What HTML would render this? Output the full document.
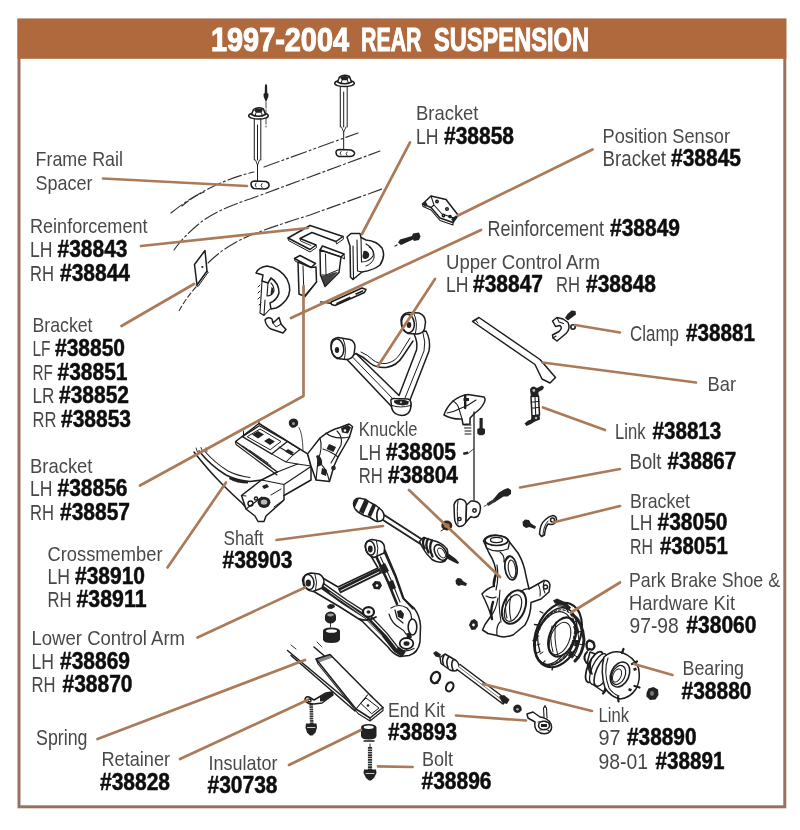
<!DOCTYPE html>
<html><head><meta charset="utf-8">
<style>
html,body{margin:0;padding:0;background:#fff;}
body{width:800px;height:830px;overflow:hidden;font-family:"Liberation Sans",sans-serif;}
svg{display:block;}
.r{font-family:"Liberation Sans",sans-serif;font-size:21px;fill:#4a4a4a;}
.r2{font-family:"Liberation Sans",sans-serif;font-size:22.3px;fill:#474747;}
.b{font-family:"Liberation Sans",sans-serif;font-weight:bold;font-size:24.5px;fill:#111;stroke:#111;stroke-width:0.55px;}
.ld{stroke:#ab7a59;stroke-width:2.7;fill:none;stroke-linecap:round;stroke-linejoin:round;}
.p{stroke:#1c1c1c;stroke-width:1.5;fill:none;stroke-linecap:round;stroke-linejoin:round;}
.pf{stroke:#1c1c1c;stroke-width:1.5;fill:#fff;stroke-linecap:round;stroke-linejoin:round;}
.k{fill:#222;stroke:none;}
</style></head><body>
<svg width="800" height="830" viewBox="0 0 800 830">
<defs><filter id="bl" x="-2%" y="-2%" width="104%" height="104%"><feGaussianBlur stdDeviation="0.7"/></filter></defs>
<rect x="0" y="0" width="800" height="830" fill="#fff"/>
<g filter="url(#bl)">
<!-- frame -->
<rect x="19" y="20" width="765.8" height="786.8" fill="none" stroke="#98725f" stroke-width="3"/>
<rect x="17.5" y="18.8" width="768.8" height="40" fill="#b0683c"/>
<text x="211" y="51" textLength="138" lengthAdjust="spacingAndGlyphs" style="font-family:'Liberation Sans',sans-serif;font-weight:bold;font-size:33px;fill:#fff;stroke:#fff;stroke-width:1.1px;">1997-2004</text>
<text x="361" y="51" textLength="60.5" lengthAdjust="spacingAndGlyphs" style="font-family:'Liberation Sans',sans-serif;font-weight:bold;font-size:33px;fill:#fff;stroke:#fff;stroke-width:1.1px;">REAR</text>
<text x="434" y="51" textLength="155" lengthAdjust="spacingAndGlyphs" style="font-family:'Liberation Sans',sans-serif;font-weight:bold;font-size:33px;fill:#fff;stroke:#fff;stroke-width:1.1px;">SUSPENSION</text>
<!-- ===== frame rail dashed lines ===== -->
<g stroke="#333" stroke-width="1.150" fill="none" stroke-linecap="round">
<path d="M171,213 Q188,199 210,188 T254,172" stroke-dasharray="14 3 2 3"/>
<path d="M264,167 L358,133" stroke-dasharray="16 3 2 3 2 3"/>
<path d="M174,250 Q184,236 200,223 T250,199 L380,151" stroke-dasharray="14 3 2 3"/>
<path d="M208,263 Q222,249 240,240 T310,215 L382,189" stroke-dasharray="14 3 2 3"/>
<path d="M196,287 Q186,298 179,311" stroke-dasharray="5 3"/>
<path d="M182,206 Q192,197 204,192" stroke-dasharray="8 3"/>
</g>
<!-- ===== left bolt + spacer ===== -->
<g class="p">
<path d="M266,86 V127" stroke-width="0.8" stroke-dasharray="6 2"/>
<path class="k" d="M265,84.500 L267,84.500 L267.300,93 L268.500,94 L268.300,97 L266,102 L263.700,97 L263.500,94 L264.700,93 Z"/>
<ellipse cx="258.500" cy="115.800" rx="9.800" ry="3.300" class="pf" stroke-width="1.500"/>
<path class="pf" stroke-width="1.400" d="M251.500,114.500 L253.500,109.500 Q258,106.300 263.500,109 L265.500,114.500 Q258.500,118 251.500,114.500 Z"/>
<path class="k" d="M254,110 Q258,107.300 263,109.500 L261.500,112.800 L256,112.800 Z"/>
<path d="M256,112.800 L255,116 M261.500,112.800 L262.500,116" stroke-width="1"/>
<path d="M254.3,119 V160 M260.8,119 V160 M257.5,125 V160" stroke-width="1"/>
<path d="M255.5,160 L257.5,165 L259.5,160" stroke-width="0.9"/>
<path d="M257.5,165 V181" stroke-width="1"/>
<path class="pf" d="M251,184 Q251,181 255,181 L266,181.5 Q269.5,183 269,186 Q268,189 264,189 L254,188.5 Q251,187.5 251,184 Z"/>
<path d="M256,183 Q254,185 256,187 M262,183.5 Q260,185.5 262,187.5" stroke-width="0.9"/>
</g>
<!-- ===== right bolt + spacer ===== -->
<g class="p">
<ellipse cx="344.500" cy="83.300" rx="9.800" ry="3.300" class="pf" stroke-width="1.500"/>
<path class="pf" stroke-width="1.400" d="M337.500,82 L339.500,77 Q344,73.800 349.500,76.500 L351.500,82 Q344.500,85.500 337.500,82 Z"/>
<path class="k" d="M340,77.500 Q344,74.800 349,77 L347.500,80.300 L342,80.300 Z"/>
<path d="M342,80.300 L341,83.500 M347.500,80.300 L348.500,83.500" stroke-width="1"/>
<path d="M340.3,86.5 V127 M347.2,86.5 V127 M343.7,92 V127" stroke-width="1"/>
<path d="M341.5,127 L343.7,132 L346,127" stroke-width="0.9"/>
<path d="M343.7,132 V150" stroke-width="1"/>
<path class="pf" d="M336,152.5 Q336,149.5 340,149.5 L351,150 Q355,151.5 354.5,154 Q353.5,156.5 350,156.5 L339,156.5 Q336,155.5 336,152.5 Z"/>
<path d="M341,151.5 Q339,153 341,155 M347,152 Q345,153.5 347,155.5" stroke-width="0.9"/>
</g>
<!-- ===== small plate (Bracket LF) ===== -->
<g class="p">
<path class="pf" d="M205,250.5 L207,271 L197,285 L194.5,264.5 Z"/>
<path d="M196,285.5 L198,286.5 L208.3,272 L207,271" stroke-width="1"/>
<circle cx="202.3" cy="267" r="1.1" class="k"/>
</g>
<!-- ===== Reinforcement C-plate (top) ===== -->
<g class="p">
<path class="pf" d="M288,238 L310,225.5 L343,236.5 L336,241.5 L312,232.5 L300,238.5 L316,245 L310,249.5 Z"/>
<path d="M288,238 L288.5,240.5 L310,252 L316.5,247.5 L316,245 M336,241.5 L336.5,244 L343.5,239 L343,236.5" stroke-width="1"/>
<path d="M300,238.5 L300.5,241 L311,245.5" stroke-width="0.9"/>
</g>
<!-- ===== left gusset ===== -->
<g class="p">
<path class="pf" d="M294.5,258.5 L300,255.5 L315.5,263.5 L311,267.5 Z"/>
<path class="pf" d="M298,262 L299,294 L305,296.5 L316.5,282 L316,267 L311,267.5 Z"/>
<path d="M303,266 L304,296 M304,296 L316.5,282" stroke-width="1"/>
<path d="M294.5,258.5 L295,261 L298,262.5" stroke-width="1"/>
</g>
<!-- ===== right gusset ===== -->
<g class="p">
<path class="pf" d="M320,250 L322.5,246 L344,254 L341,257 Z"/>
<path class="pf" d="M320,250 L320.5,275 L325,286.5 L339,272.5 L341,257 Z"/>
<path d="M325.5,254 L326,275 L338,270 M320.5,275 L326,275" stroke-width="1"/>
<path class="k" d="M321,276 L325,286 L338,272 L334,272.5 Q328,275 321,276 Z" opacity="0.85"/>
<path d="M341,257 L344.5,259 L344,254" stroke-width="1"/>
</g>
<!-- ===== curved bracket (C shaped) ===== -->
<g class="p">
<path class="pf" d="M256,273 Q258,267.5 267,266 Q280,268 287,279 Q293,291 286,300 Q281,306 276,308 L271,309 L270,303 Q277,300 279,293 Q279,283 271,278 L268,283 L262,281 L263,275 Z"/>
<path d="M262,281 L260,313 L264,315.5 L270,309 M264,315.5 L265,300 M268,283 L267,296 Q272,296 274,291 Q274,286 271,283" stroke-width="1.1"/>
<path d="M260,285 L258,287 M260,291 L258,293 M260,297 L258,299 M261,303 L259,305" stroke-width="1"/>
<path class="k" d="M271.5,287 q2.5,1 2,4.5 q-1,2.5 -3,3 z"/>
<path class="pf" d="M265,320 Q268,316 272,319 L273,323 L279,317.5 L281,324 L286,329.5 L283,333 L271,329 Q266,326 265,320 Z"/>
<path d="M273,323 L276,327 L281,324" stroke-width="1"/>
</g>
<!-- ===== Bracket LH #38858 ===== -->
<g class="p">
<path class="pf" d="M347,237 L351,233.5 L360,233.5 L361,237.5 L366,240 Q377,241 382,248 Q386,256 380,265 Q374,270 362,272 L353,279.5 L350.5,277 L350,246 Z"/>
<path d="M353,246 L353.5,279 M357,240 L357.5,271 L362,272 M361,237.5 L361.5,262 Q369,262 373,256 Q375,249 366,244" stroke-width="1.1"/>
<path class="k" d="M363.5,251 q4,-1 5.5,2.5 q1,4 -3,5.5 q-3.5,0.5 -3.5,-3 z"/>
<path d="M369,247 Q375,250 374,258 Q372,264 366,266" stroke-width="1"/>
</g>
<!-- ===== small bolt near bracket ===== -->
<g class="p">
<path class="k" d="M398,242.5 L400,239.5 L412,236 L413,233.5 L419,232.5 L420.5,236.5 L419,240 L414,241 L413,239.5 L401,245 Z"/>
<path d="M397,245 l-2,1" stroke-width="1.2"/>
</g>
<!-- ===== position sensor bracket ===== -->
<g class="p">
<path class="pf" stroke-width="1.7" d="M422.5,204 L431,196 L446,199.500 L458,215 L453,222.5 L440,218 L431,207.5 Z"/>
<path class="k" d="M422.500,204 l3,-2.500 l2,3 l-2.500,2.500 z M451,219 l5,-3.500 l1.500,2 l-4,5 z"/>
<path d="M431,196 L434,205 L442,214 L454,218 M434,205 L431,207.5 M422.5,204 L423,206.5 L431,210 L440,220.5 L453,225 L453,222.5" stroke-width="1.05"/>
<circle cx="437" cy="201.5" r="1.2"/><circle cx="447" cy="209" r="1.3"/><circle cx="443.5" cy="215.5" r="1.2"/><circle cx="450" cy="216.5" r="1.1"/>
</g>
<!-- ===== slender strip ===== -->
<g class="p">
<path d="M320.500,301.800 L332,303.500" stroke-width="1.300"/>
<path class="pf" d="M331,302 L362,288 L366,289.5 L364.5,292.5 L335,305.5 L331.5,304.5 Z"/>
<path class="k" d="M336,303 L350,296.5 L351,298.5 L337,304.8 Z M355,293.5 L363,290 L363.5,291.5 L356,295 Z"/>
</g>
<!-- ===== Upper control arm ===== -->
<g class="p">
<!-- arms -->
<path class="pf" d="M347,359.5 L391,406 Q394,414 402,415 Q410,414 411,405 L410,400 L429,351 Q431,340 426,331 L414,334 Q418,342 416.5,350 L399,395.5 L356,353.5 Z"/>
<path d="M352,356.5 L395,401 M423,333 Q426,342 424,351 L405,398" stroke-width="1"/>
<!-- cross brace -->
<path d="M356,353.5 Q364,357 370,363 Q376,368 386,367.5 Q397,366 403,356 Q409,347 413,341" />
<path d="M361,352 Q368,355 373,360 Q378,364 386,363.5 Q395,362 400,354 Q405,346 410,338" stroke-width="1"/>
<!-- left bushing -->
<path class="pf" d="M331,345 Q331,338.5 338,337.5 L350,339.5 Q355,341.5 355,347 L354,354 Q352,359.5 346,359.5 L337,358.5 Q331,356 331,345 Z"/>
<ellipse cx="337.5" cy="348.5" rx="6.2" ry="9.5" transform="rotate(-8 337.5 348.5)"/>
<ellipse cx="337" cy="350" rx="2.2" ry="3" class="k"/>
<path d="M343,339 Q347,347 344.5,358.5" stroke-width="1"/>
<!-- top bushing -->
<path class="pf" d="M401,320 Q402,313 409,312.5 L419,313 Q425,315 425.5,322 L424.5,329 Q423,333.5 417,334 L408,333.5 Q401,331 401,320 Z"/>
<ellipse cx="408" cy="323.5" rx="6.3" ry="9.3" transform="rotate(-8 408 323.5)"/>
<ellipse cx="409" cy="325" rx="2.3" ry="3" class="k"/>
<path d="M414,314 Q418,322 415.5,333" stroke-width="1"/>
<!-- ball joint end -->
<path class="pf" d="M391,402 Q390,398 395,398.5 L408,399 Q411,400 411,404 L410.5,409 Q409,415 402,415.5 Q394,415 392,409 Z"/>
<path d="M392,405.5 Q400,408.5 410.5,405.5 M397,400.5 l3,2 l4,-2" stroke-width="1"/>
<path class="k" d="M394,400.500 l5,-1 l6,0.500 l4,1.500 l-1,3 l-5,1 l-6,-1 l-3,-2 z"/>
<circle cx="401" cy="402.300" r="1.100" fill="#ccc" stroke="none"/>
</g>
<!-- ===== Bar ===== -->
<g class="p">
<path class="pf" d="M479,317.5 L540,359.5 L555.5,377.5 L550,383 L542,379 L535,364.5 L472.5,321.5 Z"/>
<path d="M475,319.5 L478,323" stroke-width="1"/>
</g>
<!-- ===== Clamp ===== -->
<g class="p">
<path class="pf" stroke-width="1.700" d="M552.500,321 L557,317.500 L563,319 L568,322.500 Q571,328.500 566,333.500 L557,341 L553,338 L552.500,335 L559,331.500 Q563,328 560,325.500 L555.500,326.500 Z"/>
<path d="M557,317.500 L559,322 L563.500,323.500 M553,338 L556,336" stroke-width="1.100"/>
<path class="k" d="M565,318 L567.500,314 L571.500,310.500 L575.500,311 L576,314.500 L572,317.500 L568,320.500 Z"/>
<circle cx="573" cy="327" r="2.200" stroke-width="1.600"/>
</g>
<!-- ===== Link #38813 ===== -->
<g class="p">
<path class="k" d="M530,390 Q530.500,386.500 534,386.500 L537,388 L542,385.500 L544,387 L543,389.500 L538.500,392 L538.500,396 L531,396.500 Z"/>
<circle cx="533.800" cy="390.500" r="1.400" fill="#bbb" stroke="none"/>
<path class="pf" stroke-width="1.600" d="M531,396.500 L538.500,396 L539.500,415 L532,416 Z"/>
<path d="M531.300,402 L539,401.500 M531.600,408 L539.200,407.500 M535,397 L535.700,415" stroke-width="1.100"/>
<path class="k" d="M531.500,415.500 L539.500,414.500 L540,419.500 L535,421.500 L531,424 L526.500,426 L524.500,423.500 L528,420.500 L531,419.500 Z"/>
<circle cx="536" cy="418" r="1.200" fill="#bbb" stroke="none"/>
</g>
<!-- ===== Strut top mount + rod ===== -->
<g class="p">
<path class="pf" stroke-width="1.700" d="M444,415 Q446,408 453,401 Q460,395.5 468,394.5 L484,397 Q486,399 484,403 Q481,409 475,413 L470,418 L470,424 L463,424.5 L462,419 Q452,419.5 444,415 Z"/>
<path d="M453,401 Q458,404 459,409 L462,419 M459,409 Q468,406 476,400 M447,413 Q454,412 459,409" stroke-width="1.05"/>
<path d="M465.200,395.500 V408" stroke-width="2.400"/>
<path class="k" d="M463.5,398 h5.5 v3 h-5.5z"/>
<path d="M464,425 h7 M464.5,428 h6.5 M465,431 h6 M465,434 h6" stroke-width="1"/>
<!-- bolt -->
<path class="k" d="M479.5,418 h3.2 v10 l2.3,1 v4.5 l-2.3,1.8 h-3.4 l-2,-1.8 v-4.5 l2.2,-1 z"/>
<!-- rod -->
<path d="M474,412 V500" stroke-width="1.3"/>
<path class="k" d="M463,452.5 l5,-1 l0.5,2.5 l-5,1 z"/>
<path d="M468.5,453 L473.5,449" stroke-width="0.8"/>
</g>
<!-- ===== Crossmember ===== -->
<g class="p">
<!-- left arm -->
<path d="M194,452 Q208,470 222,484 Q234,496 242,503 L248,510" stroke-width="1.500"/>
<path d="M199,451 Q211,466 226,475 Q238,481 250,481.500 L262,480" stroke-width="1.500"/>
<path d="M205,451.500 Q215,463 228,471 Q238,476 250,477.500" stroke-width="1.100"/>
<path d="M196,448 l1.500,4 M201,447.500 l1.500,4 M206,448 l1,3.500" stroke-width="0.900"/>
<path class="k" d="M230,476.500 Q238,480.500 248,481 L248,483.500 Q237,483.500 229,479 Z"/>
<!-- outer frame + top pad -->
<path class="pf" d="M235.600,441.500 L259,423.500 L307.600,453.900 L311,466 L311,480 L284,495.500 L284,500 L266,516 L264,521.500 L258,521.500 L255,516 L246,509 L241.500,495.500 L261.500,480 L277.300,472 Z"/>
<path d="M235.600,441.500 L236,444.500 L277,475 M261.500,480 L284,484.500 L284,495.500 M284,484.500 L311,466.500 M277.300,472 L297.500,464 L311,466 M246,509 L262,497" stroke-width="1.150"/>
<path d="M242.400,436.600 L259.300,425.800 L287.400,441.500 L271.600,453.900 Z" stroke-width="1.300"/>
<path d="M247.500,436.500 L260,429 L281,441.500 L270.500,449.500 Z" stroke-width="1"/>
<path class="k" d="M252,434.500 l6,-3.500 l6,3.500 l-6,4 z M264,441 l5,-3 l6,3.500 l-5,3.500 z"/>
<path d="M259,423.500 v-4 M243.500,436 v-5 M287.400,441.500 L300,449.500 L293,455 L279,447 M271.600,453.900 L286,462 L297.500,464 M286,462 L293,455" stroke-width="1.050"/>
<path class="k" d="M288,449 l6,3.500 l-3,2.500 l-6,-3.500 z"/>
<path d="M243,446 L271,466 M250,450.500 L268,463" stroke-width="0.900"/>
<!-- housing details -->
<ellipse cx="264" cy="502.300" rx="6.400" ry="5.600" class="k"/>
<ellipse cx="264" cy="502" rx="3.300" ry="2.600" fill="#bbb" stroke="none"/>
<circle cx="250.500" cy="503.500" r="2.500" stroke-width="1.400"/><circle cx="256" cy="498.500" r="1.600"/>
<path d="M271,495 L281,489 M274,507 L283,500.500 M246,496 L241.500,495.500" stroke-width="1"/>
<path class="k" d="M262,486 l5,-2 l2,3 l-5,2 z"/>
<!-- right wing -->
<path class="pf" d="M307.600,453.900 L320,438 Q330,430 340,427.500 L349,424 L352.500,426.500 L349.500,437 Q344,447 338,457 L334,466 L329.500,481.500 L316,480 L311,466 Z"/>
<path d="M320,438 Q323,448 318,460 L316,480 M326,433 Q334,440 349.500,437 M323,449 Q332,452 338,457 M318,462 Q326,466 329.500,481.500" stroke-width="1.150"/>
<path class="k" d="M341,428 l7,-3 l3,2.500 l-3,6 l-6,-1 z M318,455 q5,3 4,10 l-5,2 q1,-7 -1,-11 z M329,444 l7,3 l-2.500,5 l-7,-3 z M322,468 l5,2 l-1,6 l-5,-2 z"/>
<path d="M337,431 Q343,437 341,445 Q337,453 331,463" stroke-width="1.100"/>
<circle cx="333.500" cy="468" r="1.600"/><circle cx="345" cy="430.500" r="1.300" fill="#fff" stroke="none"/>
<!-- nut + thin line above -->
<path class="k" d="M289,421 q3,-3.500 7,-2 q3.500,2.500 1.500,6.500 q-2.500,3 -6,2 q-3.500,-2 -2.500,-6.500 z"/>
<circle cx="293.500" cy="423.500" r="1.500" fill="#999" stroke="none"/>
<path d="M299,427.500 Q302.500,433 303,450" stroke-width="0.800"/>
</g>
<!-- ===== Shock lower bracket + nut ===== -->
<g class="p">
<path class="pf" d="M454,505 Q455,500 460,499 Q466,499.5 466.5,505 L466,522 Q464,526.5 459,526.5 Q455,525 454.5,518 Z"/>
<path class="pf" d="M466.5,505 L471,501 Q478,500.5 480,505 Q481.5,511 478,516 Q474,518.5 471,516.5 L466,522 Z"/>
<circle cx="474.5" cy="510.5" r="1.7"/><circle cx="459.5" cy="519" r="1.6"/>
<path d="M458,501 Q456.5,510 458,524" stroke-width="1"/>
<ellipse cx="446.800" cy="525.500" rx="4.200" ry="3.600" stroke="#3a2418" stroke-width="2.600" fill="#a0705a"/>
<path d="M441,531 l3,-2" stroke-width="1"/>
</g>
<!-- ===== Bolt #38867 ===== -->
<g class="p">
<path class="k" d="M499,492.5 L504,489.5 L508,488 L511,490 L511,494 L507.5,496.5 L503.5,496.5 L495,502 L493,499.5 Z"/>
<path d="M494.5,500.5 L488.5,504" stroke-width="3.2" stroke="#333" stroke-dasharray="1.2 1"/>
<path d="M486.5,505 l-2.5,1.5" stroke-width="0.8"/>
</g>
<!-- ===== Bracket #38050 clamp + bolt ===== -->
<g class="p">
<path class="k" d="M522.5,522 L525,519.5 L529,520 L531,523.5 L536,526.5 L535,529 L529.5,527 L526,528 L523,526 Z"/>
<path class="pf" d="M539.5,534 Q540,524 545,520 Q549,516 553,515.5 Q557,516.5 556.5,520.5 Q555,524.5 551,524.5 L548,524 Q545,528 544.5,535 L541.5,536.5 Z"/>
<circle cx="552.5" cy="520" r="2"/>
<path d="M543,534.5 Q543.5,526 548,521" stroke-width="1"/>
</g>
<!-- ===== Axle shaft ===== -->
<g class="p">
<path d="M381,518.800 L422,545 M383.800,514.800 L424.500,541" stroke-width="1.900" stroke="#222"/>
<path class="pf" stroke-width="2" d="M353.500,503.500 Q354,498 360,498.200 L366,499.500 L371,503 L376,505.500 L382,510.500 Q385.500,515 383,519.500 Q380,522.500 375.500,521 L369,517 L364,515.500 L358,512 Q353.500,508.500 353.500,503.500 Z"/>
<path class="k" d="M354,502 q1,-3.500 5,-3.500 l-4.500,10 q-1.500,-3 -0.500,-6.500 z"/>
<path class="k" d="M364.500,499.300 l4.500,2.300 l-5.500,12.400 l-4.500,-2.600 z"/>
<path class="k" d="M372.500,504 l3.500,1.800 l-5,11.200 l-3.500,-1.800 z"/>
<path d="M379,508 Q375.500,513 377.500,520.500" stroke-width="1.700"/>
<path class="pf" stroke-width="1.600" d="M419.500,541.500 L423.500,537.500 L433,540.500 Q442,542.500 447,549 Q449.500,556 445,561 Q439,564 432,559.500 Q426,554 422.500,547.500 Z"/>
<path d="M424.500,538 Q421.500,542 424.500,548.500 M428,539 Q424.500,544 428.500,552.500 M432,540.500 Q428,546.500 432.500,556.500" stroke-width="2.300"/>
<ellipse cx="440.500" cy="552.500" rx="5.200" ry="8.600" transform="rotate(-32 440.500 552.500)" stroke-width="1.600"/>
<ellipse cx="441.500" cy="553" rx="3" ry="5.500" transform="rotate(-32 441.500 553)" stroke-width="1"/>
<path class="k" d="M445.500,556 l3,-2.500 l7.500,5.500 l3,3.500 l-1,1.500 l-4.500,-2 l-7.500,-4 z"/>
<!-- small bolt -->
<path class="k" d="M455.5,580.5 L457.5,578 L461,578.5 L463,581 L467,583.5 L466,586 L461.5,585 L458.5,586 L456,584 Z"/>
<!-- nut -->
<path class="k" d="M469,625 l2,-4.5 l3.5,-1.5 l3,2.5 l0.5,4.5 l-2.5,3.5 l-4,0.5 z"/>
<circle cx="473.5" cy="625" r="1.4" fill="#fff" stroke="none"/>
</g>
<!-- ===== Lower control arm ===== -->
<g class="p">
<!-- silhouette -->
<path class="pf" stroke-width="1.7" d="M321,577 L338,587 L378,568 L371,556 L385,550 L396,576 L404,599 L414,608 Q420,616 420.500,626 L420,642 Q418,653 409,655.500 L400,656.500 Q393,654 388,647 L362,621 L340,607 L313,591 Z"/>
<!-- arm A dark band -->
<path d="M322,585.500 L345,602 L367,616 L385,635 L396,649 L404,654.500" stroke="#242424" stroke-width="6.500" stroke-linecap="butt"/>
<path d="M324,585.500 L346,601 L367,614.500 L386,634 L397,648" stroke="#fff" stroke-width="1.100"/>
<path d="M330,592.500 L350,606.500 L366,618 L382,636" stroke="#ddd" stroke-width="0.800"/>
<!-- cross brace dark band -->
<path d="M339,591 L381,570.500" stroke="#242424" stroke-width="5.800" stroke-linecap="butt"/>
<path d="M341,590.500 L379,572" stroke="#eee" stroke-width="1"/>
<!-- arm B -->
<path d="M376,556 L388,582 L397,604" stroke="#242424" stroke-width="2.600"/>
<path d="M384.500,552 L395,575.500 L403,598 L413,608.500" stroke="#242424" stroke-width="2"/>
<path d="M380.500,557 L391.500,581 L400,602" stroke-width="1.100"/>
<path class="k" d="M379,566 l6,-3 l4,8 l-6,3.500 z M388,582 l5,-2 l3,8 l-4.500,2 z"/>
<!-- junction boss -->
<ellipse cx="368.500" cy="612" rx="5.500" ry="4.800" fill="#fff" stroke-width="2.200"/>
<ellipse cx="368.500" cy="612" rx="2" ry="1.700" class="k"/>
<path d="M360,619 Q368,622 376,617" stroke-width="1.800"/>
<!-- nut under brace -->
<path class="k" d="M372,584.500 l3,-3.500 l5,0.500 l2,4 l-2.500,4 l-5.500,-0.500 z"/>
<circle cx="377" cy="585.500" r="1.300" fill="#fff" stroke="none"/>
<!-- plate near ball joint -->
<path d="M391,608 Q399,603 407,608 Q413,614 411,622 M389,614 Q392,624 400,628 Q404,630 406,634 M395,610 l2,8 l6,5" stroke-width="1.200"/>
<path class="k" d="M397,611 l4,-1 l3,4 l-1,5 l-5,-2 z"/>
<!-- ball joint -->
<ellipse cx="412.500" cy="627" rx="4.300" ry="8" fill="#fff" stroke-width="1.600"/>
<path class="k" d="M406,633.500 l4.500,-1 l1.500,5 l-4.500,1.500 z"/>
<ellipse cx="406.500" cy="643.500" rx="6.800" ry="5.500" fill="#fff" stroke-width="1.800"/>
<ellipse cx="406.500" cy="643.500" rx="3" ry="2.300" class="k"/>
<path d="M398,648 Q405,653.500 414,648.500" stroke-width="1.200"/>
<!-- top bushing -->
<path class="pf" stroke-width="1.600" d="M365,546 Q366,540 372,539.500 L380,541 Q385,543.500 384.500,549 L384,553 L374,557.500 Q366,555.500 365,546 Z"/>
<ellipse cx="370.300" cy="548" rx="4.600" ry="7.200" transform="rotate(-12 370.300 548)" stroke-width="1.500"/>
<ellipse cx="370.300" cy="549" rx="2.400" ry="3.400" class="k"/>
<path d="M376.500,541 Q379,548 377,556" stroke-width="1"/>
<!-- left bushing -->
<path class="pf" stroke-width="1.600" d="M302.500,580 Q304,573.500 311,573 L319,574 Q324,576.500 324,582 L322,588 L313,591.500 Q303,590 302.500,580 Z"/>
<ellipse cx="308.800" cy="582" rx="5" ry="7.600" transform="rotate(-12 308.800 582)" stroke-width="1.500"/>
<ellipse cx="308.300" cy="583" rx="2.700" ry="3.600" class="k"/>
<path d="M315,574.500 Q318,582 315.500,590.500" stroke-width="1"/>
</g>
<!-- ===== bump stop stack ===== -->
<g class="p">
<path class="k" d="M327,606 l3,-2 l4,0.5 l1,2.5 l-3.5,2 l-3.5,-0.5 z"/>
<path class="k" d="M325,616 Q325.500,612 330.500,611.500 Q335.500,612 336,616 L336,620 Q334,623.500 330.500,623.500 Q327,623.500 325,620 Z"/>
<ellipse cx="330.500" cy="615" rx="3.200" ry="1.400" fill="#999" stroke="none"/>
<path class="k" d="M323,631 Q323,627.5 331,627.5 Q339.5,627.5 340,631 L340,639.5 Q339,643 331.5,643 Q323.5,643 323,639.5 Z"/>
<ellipse cx="331.5" cy="631" rx="5.5" ry="1.8" fill="#fff" stroke="none"/>
<path d="M330.5,622 v5" stroke-width="0.9"/>
</g>
<!-- ===== Knuckle ===== -->
<g class="p">
<path class="pf" stroke-width="1.900" d="M483.500,541 Q485,535.500 495,535 Q507,536 509.500,542 L518,553 Q524,563 526,576 L529,589 L538,584 L544,580.500 Q549,580 550,585 L549,592 L541,599 L531,602.500 Q531,615 525,625 L513,635 Q504,638.500 497,635.500 L488,633.500 L482.500,630 L485,624.500 L491,616 Q489,608 482,594 Q486,589 494,586 L496,574 Q496,564 489,553 Z"/>
<ellipse cx="496.500" cy="540.500" rx="11.500" ry="5" stroke-width="1.700"/>
<ellipse cx="496.500" cy="540" rx="6" ry="2.600" stroke-width="1.300"/>
<path d="M485,542 L486.500,548 Q496,553.500 508,549 L509.500,542.500" stroke-width="1.300"/>
<path d="M500,552 Q505,556 504,562 L510,556" stroke-width="1.200"/>
<!-- upper window -->
<ellipse cx="511" cy="568" rx="6" ry="12" transform="rotate(-8 511 568)" stroke-width="1.700"/>
<ellipse cx="512" cy="569" rx="3.600" ry="9" transform="rotate(-8 512 569)" stroke-width="1.100"/>
<!-- hub bore -->
<ellipse cx="514" cy="607" rx="11" ry="17.500" transform="rotate(22 514 607)" stroke-width="2"/>
<ellipse cx="513" cy="608" rx="7.500" ry="14" transform="rotate(22 513 608)" stroke-width="1.200"/>
<path d="M507,598 Q504,607 507,618 M511,596 Q508,607 511,620" stroke-width="1.100"/>
<!-- ribs -->
<path d="M497,565 Q499,578 496,590 M491,616 Q496,610 498,598 M486,596 Q492,599 496,597 M529,589 Q524,588 521,592 M497,635.500 Q496,626 500,622" stroke-width="1.200"/>
<path d="M496,574 Q493,582 494,586 M493,602 Q490,611 492,619" stroke-width="2.400"/>
<path d="M500,590 Q498,604 501,622" stroke-width="1.100"/>
<!-- right ear -->
<path d="M538,584 Q541,589 540,596 M544.500,580.500 Q542,587 545,593" stroke-width="1.100"/>
<circle cx="545.500" cy="587" r="2"/>
</g>
<!-- ===== Park brake shoe / backing plate ===== -->
<g class="p">
<ellipse cx="558" cy="635" rx="22" ry="33.5" transform="rotate(22 558 635)" fill="#fff" stroke-width="2.1"/>
<ellipse cx="556" cy="636.5" rx="19" ry="30" transform="rotate(22 556 636.5)" stroke-width="1.5"/>
<ellipse cx="553.5" cy="638" rx="16.5" ry="27.5" transform="rotate(22 553.5 638)" stroke-width="1.3"/>
<ellipse cx="562" cy="637" rx="12.5" ry="20.5" transform="rotate(22 562 637)" fill="#fff" stroke-width="2"/>
<ellipse cx="560" cy="638.5" rx="9.5" ry="17" transform="rotate(22 560 638.5)" stroke-width="1"/>
<path d="M552,626 Q549,638 553,652 M556,622 Q553,638 558,656" stroke-width="1"/>
<ellipse cx="555" cy="637.300" rx="17.800" ry="28.800" transform="rotate(22 555 637.300)" stroke-width="1.100" stroke-dasharray="2.500 2"/>
<path d="M540,621 Q535,636 540,652 M543,613 l-3,-1.500 M538,625 l-3.500,-0.500 M536.500,640 l-3.500,0.500 M539,652 l-3,1.500 M545,661 l-2.500,2.500 M553,667 l-1,3" stroke-width="1.300"/>
<!-- shoes dark on right -->
<path d="M572,614 Q583,622 584,640 Q583,654 575,661" stroke-width="3" stroke="#222"/>
<path d="M569,618 Q578,626 579,640 Q578,652 572,658" stroke-width="1.1"/>
<path class="k" d="M573,626 l5,1 l1.5,6 l-4,1 z M575,640 l4.5,0 l-1,7 l-4.5,-1 z M570,651 l5,1 l-3,6 l-4,-2 z"/>
<path d="M574,622 l5,-2 M577,632 l6,-1 M578,644 l6,1 M574,655 l5,3" stroke-width="1"/>
<!-- top clip -->
<path class="k" d="M553,600.500 l4,-2 l9,4 l5,5 l-2,2.5 l-6,-4.5 l-8,-2 z"/>
<path d="M558,606 q6,-1 10,5" stroke-width="1.1"/>
<!-- left ticks -->
<path d="M537,628 l3,1 M536,636 l3,0 M537,645 l3,-1 M540,654 l3,-2" stroke-width="1"/>
</g>
<!-- ===== clip between ===== -->
<g class="p">
<path d="M588,650 Q584.500,643 589,640.500 Q594.500,641 594.500,646.500 Q593,651 589.500,649" stroke-width="2.300"/>
<path d="M587,652 Q582,657 586.500,663" stroke-width="2"/>
</g>
<!-- ===== Hub / bearing ===== -->
<g class="p">
<!-- barrel -->
<path class="pf" d="M590,652 L612,660 L604,692 L592,684 Q584,668 590,652 Z" stroke="none"/>
<ellipse cx="594.5" cy="667" rx="6.5" ry="16.5" transform="rotate(24 594.5 667)" fill="#fff" stroke-width="1.8"/>
<ellipse cx="598.5" cy="669" rx="6.5" ry="16.5" transform="rotate(24 598.5 669)" fill="#fff" stroke-width="1.3"/>
<ellipse cx="603" cy="671" rx="6.5" ry="16.5" transform="rotate(24 603 671)" fill="#fff" stroke-width="1.6"/>
<path d="M591,660 q-2,7 1,14 M589,664 q-1,5 1,9" stroke-width="1.6"/>
<!-- flange -->
<path class="pf" d="M604,657 Q612,650 622,652.5 Q634,657 638.5,668 Q641,680 636,689 Q630,698 620,699 Q611,697 605,688 Q600,672 604,657 Z" stroke-width="1.7"/>
<path d="M608,658 Q603,672 609,688 Q613,694 619,696" stroke-width="1.1"/>
<ellipse cx="620" cy="674.5" rx="9" ry="13" transform="rotate(24 620 674.5)" stroke-width="1.6"/>
<ellipse cx="618.5" cy="675" rx="6.5" ry="10" transform="rotate(24 618.5 675)" stroke-width="1.2"/>
<ellipse cx="617" cy="675.5" rx="4" ry="7" transform="rotate(24 617 675.5)" stroke-width="1"/>
<!-- studs -->
<path d="M632,664 l5,-2.500 M634.5,686 l5,1.500 M618,697 l0.500,4.500 M606,690 l-3,3.500 M622,653 l1.500,-4" stroke-width="2.200"/>
<path class="k" d="M633,668.500 l3,-1 l1,2.500 l-3,1 z M629,688 l3,1 l-1,2.500 l-3,-1 z"/>
<!-- nut -->
<path class="k" d="M646.500,693 l2,-4.500 l5,-1.500 l4.500,2.500 l0.500,5.500 l-3,4.500 l-5.500,0.500 l-3.500,-3.500 z"/>
<ellipse cx="652" cy="693.500" rx="2" ry="2.400" fill="#777" stroke="none"/>
</g>
<!-- ===== Tie rod (Link 97) + end kit ===== -->
<g class="p">
<path class="k" d="M433,653 l3,-2 l5,3.500 l-1.500,3 l-4,-1 z"/>
<path class="pf" stroke-width="1.600" d="M440,657.500 L445,654 L456,660.500 Q460.500,664.500 458.500,669 Q455.500,672.500 450,670 L441,663.500 Z"/>
<path d="M444,655.500 Q441.500,659 443.500,664.500 M448.500,657 Q445.500,661.500 448,667.500 M453,660 Q450.500,664.500 453,670" stroke-width="1.600"/>
<path d="M457,669.500 L503,704 L506.500,699.500 L460,664.500" stroke-width="1.500" fill="#fff"/>
<path d="M459,667 L504,701.500" stroke="#777" stroke-width="1"/>
<path class="k" d="M499,696.500 l5,-1.500 l5.500,4.500 l-2.500,4.500 l-5,-1.500 z"/>
<path class="k" d="M513.500,707 q2.500,-3.500 6,-2 q3,2.500 2,5.500 q-2.500,3.500 -6,2 q-3,-2 -2,-5.500 z"/>
<circle cx="517.500" cy="709.300" r="1.300" fill="#aaa" stroke="none"/>
<!-- outer tie rod end -->
<path class="pf" d="M527,714 L533,712 L540,717 Q548,718 551,724 Q553,730 548,733 Q542,735 537,731 Q534,727 535,722 L528,718 Z"/>
<path d="M544,717 L543.500,708 L545,706 L546.500,708 L547,718" stroke-width="1.100" fill="#fff"/>
<path class="k" d="M543.700,707.500 l1.300,-3 l1.300,3 z"/>
<ellipse cx="544" cy="725.500" rx="5.500" ry="4.200"/>
<path d="M538,722 Q544,720 550,723 M540,730 Q545,728 549,730.500" stroke-width="1"/>
<path class="k" d="M541,724 h6 v3 h-6 z"/>
<!-- two nuts -->
<ellipse cx="435.500" cy="677.500" rx="4.300" ry="5.800" transform="rotate(25 435.500 677.500)" stroke-width="2.300"/>
<path d="M432,681 l2,2.500 l4,-0.500" stroke-width="1.400"/>
<ellipse cx="449.700" cy="686.800" rx="3.500" ry="4.800" transform="rotate(25 449.700 686.800)" stroke-width="2.100"/>
</g>
<!-- ===== Spring (leaf) + retainer + insulator + bolt ===== -->
<g class="p">
<path d="M287.500,650.500 L357,708.500 M291,655.500 L355,711" stroke-width="1.500"/>
<path d="M314,647 L372,697" stroke-width="1.600"/>
<path class="pf" d="M316,659 L330,654.500 L372,697 L383,707.500 L370,718 L356,709 Z"/>
<path d="M356,709 L367.500,695 M316,659 L318,664 L358,713.500 L370,721 L383,710.500 L383,707.500 M370,718 L370,721" stroke-width="1.100"/>
<path d="M361,703 L366,698 L379,708 L372,713.500 Z" stroke-width="1"/>
<circle cx="368" cy="705.500" r="1.300" class="k"/>
<path class="k" d="M316,659 l14,-4.500 l3,3 l-14,5 z" opacity="0.550"/>
<path d="M296,649 l-5,-4 M322,647 l-5,-5 M300,663 l4,-3" stroke-width="0.900"/>
<!-- retainer -->
<path class="pf" d="M305,699 Q306,696 309,697 L314,700 L326,693 L332,692 L333,695 L322,703 L314,704 L309,703.500 Q305,702 305,699 Z"/>
<path class="k" d="M320,697 l8,-4.500 l4,-0.500 l1,3 l-9,6 l-4,0.500 z"/>
<circle cx="309.500" cy="700.500" r="1.500"/>
<path d="M311.200,704 L311.700,724" stroke-width="3.600" stroke="#2a2a2a" stroke-dasharray="1.600 0.700" stroke-linecap="butt"/>
<path class="k" d="M306,723.500 h10.500 l0.500,4 l-1.500,5 l-3,3 h-2.500 l-3,-3 l-1.500,-5 z"/>
<path d="M307.500,727.500 h7.500" stroke="#ccc" stroke-width="1"/>
<!-- insulator -->
<path class="k" d="M361,727.500 Q361,724 368.500,724 Q376,724 376.500,727.500 L376.500,736 Q376,739.500 368.500,739.500 Q361.500,739.500 361,736 Z"/>
<ellipse cx="368.700" cy="727.300" rx="5" ry="1.700" fill="#fff" stroke="none"/>
<path d="M364,741 h10" stroke-width="1.400"/>
<!-- bolt #38896 -->
<path d="M370,747 V770" stroke-width="4.200" stroke="#2a2a2a" stroke-dasharray="1.700 0.700" stroke-linecap="butt"/>
<path d="M370,744 v3" stroke-width="0.900"/>

<path class="k" d="M364,769.500 h12 l0.500,3.500 l-2.500,5 l-3,2.500 h-2 l-3,-2.500 l-2.500,-5 z"/>
<path d="M366,773.500 h8" stroke="#ccc" stroke-width="1"/>
</g>

<polyline class="ld" points="103.0,178.5 247.0,186.0"/>
<polyline class="ld" points="141.0,246.0 308.0,228.0"/>
<polyline class="ld" points="410.0,142.4 362.0,234.0"/>
<polyline class="ld" points="592.5,149.5 458.0,215.5"/>
<polyline class="ld" points="481.0,230.0 291.0,318.0"/>
<polyline class="ld" points="435.0,279.0 378.0,366.0"/>
<polyline class="ld" points="121.5,326.0 194.0,284.0"/>
<polyline class="ld" points="140.0,485.5 303.5,396.0 303.5,286.0"/>
<polyline class="ld" points="167.5,567.5 226.0,482.5"/>
<polyline class="ld" points="276.5,540.0 383.0,526.0"/>
<polyline class="ld" points="409.0,490.0 500.0,577.0"/>
<polyline class="ld" points="620.0,332.5 575.0,325.0"/>
<polyline class="ld" points="696.0,382.5 542.5,362.5"/>
<polyline class="ld" points="605.0,430.0 543.0,407.5"/>
<polyline class="ld" points="620.0,469.0 520.0,487.5"/>
<polyline class="ld" points="620.0,506.0 553.0,522.5"/>
<polyline class="ld" points="620.0,582.5 571.0,612.5"/>
<polyline class="ld" points="672.5,675.0 634.0,664.0"/>
<polyline class="ld" points="592.0,711.0 483.0,684.0"/>
<polyline class="ld" points="456.0,715.5 526.0,720.5"/>
<polyline class="ld" points="412.5,767.0 378.0,766.4"/>
<polyline class="ld" points="197.5,637.5 305.0,587.5"/>
<polyline class="ld" points="97.5,739.0 305.0,660.0"/>
<polyline class="ld" points="180.0,759.0 307.5,700.0"/>
<polyline class="ld" points="289.0,765.0 361.0,730.0"/>
<text class="r" x="35.5" y="165.5" textLength="87.5" lengthAdjust="spacingAndGlyphs">Frame Rail</text>
<text class="r" x="35.5" y="189.5" textLength="57.0" lengthAdjust="spacingAndGlyphs">Spacer</text>
<text class="r" x="30.0" y="233.0" textLength="117.5" lengthAdjust="spacingAndGlyphs">Reinforcement</text>
<text class="r2" x="30.0" y="257.0" textLength="22.5" lengthAdjust="spacingAndGlyphs">LH</text>
<text class="b" x="57.5" y="257.0" textLength="70.0" lengthAdjust="spacingAndGlyphs">#38843</text>
<text class="r2" x="30.0" y="280.5" textLength="24.0" lengthAdjust="spacingAndGlyphs">RH</text>
<text class="b" x="60.0" y="280.5" textLength="70.0" lengthAdjust="spacingAndGlyphs">#38844</text>
<text class="r" x="32.5" y="332.0" textLength="60.0" lengthAdjust="spacingAndGlyphs">Bracket</text>
<text class="r2" x="32.5" y="356.0" textLength="18.0" lengthAdjust="spacingAndGlyphs">LF</text>
<text class="b" x="55.0" y="356.0" textLength="70.0" lengthAdjust="spacingAndGlyphs">#38850</text>
<text class="r2" x="32.5" y="379.5" textLength="20.5" lengthAdjust="spacingAndGlyphs">RF</text>
<text class="b" x="57.5" y="379.5" textLength="70.0" lengthAdjust="spacingAndGlyphs">#38851</text>
<text class="r2" x="32.5" y="403.0" textLength="22.0" lengthAdjust="spacingAndGlyphs">LR</text>
<text class="b" x="59.0" y="403.0" textLength="70.0" lengthAdjust="spacingAndGlyphs">#38852</text>
<text class="r2" x="32.5" y="426.5" textLength="24.0" lengthAdjust="spacingAndGlyphs">RR</text>
<text class="b" x="61.0" y="426.5" textLength="70.0" lengthAdjust="spacingAndGlyphs">#38853</text>
<text class="r" x="30.0" y="472.7" textLength="62.5" lengthAdjust="spacingAndGlyphs">Bracket</text>
<text class="r2" x="30.0" y="496.3" textLength="22.5" lengthAdjust="spacingAndGlyphs">LH</text>
<text class="b" x="57.5" y="496.3" textLength="70.0" lengthAdjust="spacingAndGlyphs">#38856</text>
<text class="r2" x="30.0" y="520.0" textLength="24.0" lengthAdjust="spacingAndGlyphs">RH</text>
<text class="b" x="60.0" y="520.0" textLength="70.0" lengthAdjust="spacingAndGlyphs">#38857</text>
<text class="r" x="47.5" y="560.6" textLength="115.0" lengthAdjust="spacingAndGlyphs">Crossmember</text>
<text class="r2" x="47.5" y="583.5" textLength="22.5" lengthAdjust="spacingAndGlyphs">LH</text>
<text class="b" x="75.0" y="583.5" textLength="70.0" lengthAdjust="spacingAndGlyphs">#38910</text>
<text class="r2" x="47.5" y="606.5" textLength="24.0" lengthAdjust="spacingAndGlyphs">RH</text>
<text class="b" x="76.5" y="606.5" textLength="70.0" lengthAdjust="spacingAndGlyphs">#38911</text>
<text class="r" x="31.5" y="645.0" textLength="153.5" lengthAdjust="spacingAndGlyphs">Lower Control Arm</text>
<text class="r2" x="31.5" y="668.5" textLength="22.5" lengthAdjust="spacingAndGlyphs">LH</text>
<text class="b" x="60.0" y="668.5" textLength="70.0" lengthAdjust="spacingAndGlyphs">#38869</text>
<text class="r2" x="31.5" y="692.0" textLength="24.0" lengthAdjust="spacingAndGlyphs">RH</text>
<text class="b" x="62.5" y="692.0" textLength="70.0" lengthAdjust="spacingAndGlyphs">#38870</text>
<text class="r2" x="36.0" y="745.0" textLength="51.5" lengthAdjust="spacingAndGlyphs">Spring</text>
<text class="r" x="101.5" y="766.0" textLength="68.5" lengthAdjust="spacingAndGlyphs">Retainer</text>
<text class="b" x="100.0" y="789.5" textLength="70.0" lengthAdjust="spacingAndGlyphs">#38828</text>
<text class="r" x="208.5" y="770.0" textLength="69.0" lengthAdjust="spacingAndGlyphs">Insulator</text>
<text class="b" x="207.5" y="793.0" textLength="70.0" lengthAdjust="spacingAndGlyphs">#30738</text>
<text class="r" x="223.5" y="545.0" textLength="40.0" lengthAdjust="spacingAndGlyphs">Shaft</text>
<text class="b" x="222.5" y="568.0" textLength="70.0" lengthAdjust="spacingAndGlyphs">#38903</text>
<text class="r" x="358.8" y="436.0" textLength="58.7" lengthAdjust="spacingAndGlyphs">Knuckle</text>
<text class="r2" x="358.8" y="460.0" textLength="22.5" lengthAdjust="spacingAndGlyphs">LH</text>
<text class="b" x="386.0" y="460.0" textLength="70.0" lengthAdjust="spacingAndGlyphs">#38805</text>
<text class="r2" x="358.8" y="482.5" textLength="24.0" lengthAdjust="spacingAndGlyphs">RH</text>
<text class="b" x="388.0" y="482.5" textLength="70.0" lengthAdjust="spacingAndGlyphs">#38804</text>
<text class="r" x="416.0" y="120.3" textLength="62.5" lengthAdjust="spacingAndGlyphs">Bracket</text>
<text class="r2" x="416.0" y="143.8" textLength="22.5" lengthAdjust="spacingAndGlyphs">LH</text>
<text class="b" x="444.0" y="143.8" textLength="70.0" lengthAdjust="spacingAndGlyphs">#38858</text>
<text class="r" x="602.5" y="143.3" textLength="127.5" lengthAdjust="spacingAndGlyphs">Position Sensor</text>
<text class="r2" x="602.5" y="166.0" textLength="63.5" lengthAdjust="spacingAndGlyphs">Bracket</text>
<text class="b" x="671.0" y="166.0" textLength="70.0" lengthAdjust="spacingAndGlyphs">#38845</text>
<text class="r2" x="487.5" y="236.0" textLength="116.5" lengthAdjust="spacingAndGlyphs">Reinforcement</text>
<text class="b" x="610.0" y="236.0" textLength="70.0" lengthAdjust="spacingAndGlyphs">#38849</text>
<text class="r" x="446.0" y="269.0" textLength="154.0" lengthAdjust="spacingAndGlyphs">Upper Control Arm</text>
<text class="r2" x="446.0" y="291.7" textLength="22.5" lengthAdjust="spacingAndGlyphs">LH</text>
<text class="b" x="473.0" y="291.7" textLength="70.0" lengthAdjust="spacingAndGlyphs">#38847</text>
<text class="r2" x="556.0" y="291.7" textLength="24.0" lengthAdjust="spacingAndGlyphs">RH</text>
<text class="b" x="586.0" y="291.7" textLength="70.0" lengthAdjust="spacingAndGlyphs">#38848</text>
<text class="r2" x="630.0" y="341.0" textLength="49.0" lengthAdjust="spacingAndGlyphs">Clamp</text>
<text class="b" x="686.0" y="341.0" textLength="69.0" lengthAdjust="spacingAndGlyphs">#38881</text>
<text class="r" x="707.5" y="391.0" textLength="28.5" lengthAdjust="spacingAndGlyphs">Bar</text>
<text class="r2" x="615.0" y="439.0" textLength="30.5" lengthAdjust="spacingAndGlyphs">Link</text>
<text class="b" x="652.5" y="439.0" textLength="68.8" lengthAdjust="spacingAndGlyphs">#38813</text>
<text class="r2" x="629.5" y="469.3" textLength="32.0" lengthAdjust="spacingAndGlyphs">Bolt</text>
<text class="b" x="667.5" y="469.3" textLength="68.8" lengthAdjust="spacingAndGlyphs">#38867</text>
<text class="r" x="630.0" y="507.5" textLength="60.0" lengthAdjust="spacingAndGlyphs">Bracket</text>
<text class="r2" x="630.0" y="530.3" textLength="22.5" lengthAdjust="spacingAndGlyphs">LH</text>
<text class="b" x="657.5" y="530.3" textLength="70.0" lengthAdjust="spacingAndGlyphs">#38050</text>
<text class="r2" x="630.0" y="553.8" textLength="23.0" lengthAdjust="spacingAndGlyphs">RH</text>
<text class="b" x="660.0" y="553.8" textLength="67.7" lengthAdjust="spacingAndGlyphs">#38051</text>
<text class="r" x="629.0" y="586.8" textLength="151.0" lengthAdjust="spacingAndGlyphs">Park Brake Shoe &amp;</text>
<text class="r" x="629.0" y="609.8" textLength="106.0" lengthAdjust="spacingAndGlyphs">Hardware Kit</text>
<text class="r2" x="629.5" y="633.0" textLength="49.3" lengthAdjust="spacingAndGlyphs">97-98</text>
<text class="b" x="686.3" y="633.0" textLength="70.2" lengthAdjust="spacingAndGlyphs">#38060</text>
<text class="r" x="682.5" y="675.0" textLength="61.5" lengthAdjust="spacingAndGlyphs">Bearing</text>
<text class="b" x="681.5" y="698.5" textLength="70.0" lengthAdjust="spacingAndGlyphs">#38880</text>
<text class="r" x="598.5" y="722.2" textLength="30.5" lengthAdjust="spacingAndGlyphs">Link</text>
<text class="r2" x="598.5" y="745.0" textLength="22.0" lengthAdjust="spacingAndGlyphs">97</text>
<text class="b" x="627.0" y="745.0" textLength="69.5" lengthAdjust="spacingAndGlyphs">#38890</text>
<text class="r2" x="598.5" y="769.2" textLength="49.5" lengthAdjust="spacingAndGlyphs">98-01</text>
<text class="b" x="655.5" y="769.2" textLength="69.0" lengthAdjust="spacingAndGlyphs">#38891</text>
<text class="r" x="388.0" y="716.7" textLength="57.0" lengthAdjust="spacingAndGlyphs">End Kit</text>
<text class="b" x="388.0" y="740.3" textLength="69.0" lengthAdjust="spacingAndGlyphs">#38893</text>
<text class="r" x="422.0" y="765.5" textLength="31.0" lengthAdjust="spacingAndGlyphs">Bolt</text>
<text class="b" x="421.5" y="789.0" textLength="70.0" lengthAdjust="spacingAndGlyphs">#38896</text>
</g>
</svg>
</body></html>
